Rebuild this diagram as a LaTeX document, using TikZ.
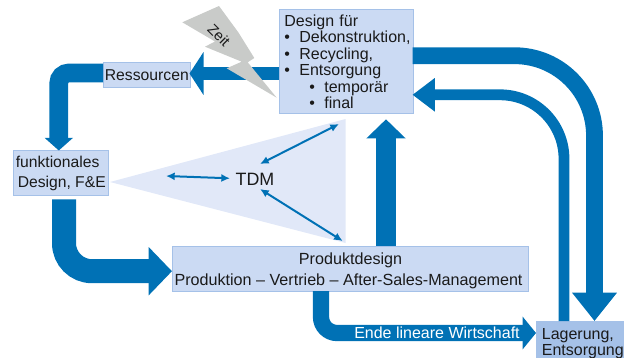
\documentclass[tikz,border=0pt]{standalone}
\usepackage{fontspec}
\setmainfont{Liberation Sans}
\usetikzlibrary{arrows.meta, positioning}
\definecolor{flowblue}{HTML}{0071B5}
\definecolor{boxfill}{HTML}{CBDAF3}
\definecolor{boxline}{HTML}{A5C1E8}
\definecolor{wedgefill}{HTML}{E1E8F8}
\definecolor{boltgray}{HTML}{C9CBC9}
\definecolor{textdark}{HTML}{1A1A1A}
\newcommand{\itembullet}{\makebox[11.25pt][l]{\textbullet}}

\begin{document}
\begin{tikzpicture}[
    x=0.75pt, y=-0.75pt,
    box_style/.style={draw=boxline, fill=boxfill, line width=0.8pt, inner sep=0pt, text=textdark, font=\fontsize{12}{12.4}\selectfont, anchor=north west},
    flow_style/.style={draw=flowblue, line cap=butt},
    link_style/.style={{Latex[length=6.5pt,width=6pt]}-{Latex[length=6.5pt,width=6pt]}, flowblue, line width=1.5pt},
]

    \useasboundingbox (0,0) rectangle (624,357);

    % Wedge
    \fill[wedgefill] (110,182) -- (345.5,119) -- (345.5,243) -- cycle;

    % Boxes
    \node[box_style, minimum width=100.5pt, minimum height=78pt, text width=92.5pt, inner xsep=4pt, align=left] (design_box) at (278.5,9.3) {%
        Design für\\
        \itembullet Dekonstruktion,\\
        \itembullet Recycling,\\
        \itembullet Entsorgung\\
        \hspace{18.75pt}\itembullet temporär\\
        \hspace{18.75pt}\itembullet final};
    \node[box_style, minimum width=64.9pt, minimum height=18.75pt, font=\fontsize{11.8}{13}\selectfont] (ressourcen_box) at (103,62) {Ressourcen};
    \node[box_style, minimum width=71.6pt, minimum height=33.75pt, align=left, font=\fontsize{11.75}{15}\selectfont] (funktional_box) at (12.5,150) {funktionales\\\hspace*{1.5pt}Design, F\&E};
    \node[box_style, minimum width=267pt, minimum height=34.1pt, inner ysep=2pt, align=center, font=\fontsize{12.1}{15.2}\selectfont] (produkt_box) at (172,245.5) {\rule{0pt}{12pt}Produktdesign\\Produktion – Vertrieb – After-Sales-Management\hspace*{3pt}};
    \node[box_style, fill=boxline, minimum width=80pt, minimum height=32.5pt, text width=72pt, inner xsep=3.75pt, inner ysep=0.4pt, align=left, font=\fontsize{12}{12}\selectfont] (lager_box) at (536,321) {Lagerung,\\Entsorgung};
    \node[text=textdark, font=\fontsize{13.4}{15}\selectfont] (tdm) at (255,179) {TDM};

    % Ends of the thick arrows
    \coordinate (ressourcen_in) at (278.5,73.5);
    \coordinate (ressourcen_tip) at (189.5,73.5);
    \coordinate (ressourcen_out) at (103,73);
    \coordinate (funktional_tip) at (58.8,150.5);
    \coordinate (funktional_out) at (64,199.3);
    \coordinate (produkt_tip) at (172,271.2);
    \coordinate (produkt_up) at (386,245.5);
    \coordinate (design_tip) at (386,119.3);
    \coordinate (design_out) at (412.5,55.7);
    \coordinate (lager_tip) at (594.5,321);
    \coordinate (lager_up) at (564,321);
    \coordinate (design_in) at (412.5,94.8);
    \coordinate (produkt_out) at (321,291);
    \coordinate (ende_tip) at (536,333);

    % Thick arrows
    \draw[flow_style, line width=10pt, -{Triangle[length=10.5pt,width=31.7pt]}] (ressourcen_in) -- (ressourcen_tip);
    \draw[flow_style, line width=14pt, rounded corners=7.5pt, -{Triangle[length=9.5pt,width=20.8pt]}] (ressourcen_out) -- (58.8,73) -- (funktional_tip);
    \draw[flow_style, line width=18pt, rounded corners=21pt, -{Triangle[length=17.5pt,width=35.25pt]}] (funktional_out) -- (64,271.2) -- (produkt_tip);
    \draw[flow_style, line width=14.5pt, -{Triangle[length=14.25pt,width=28.5pt]}] (produkt_up) -- (design_tip);
    \draw[flow_style, line width=12.6pt, rounded corners=60pt, -{Triangle[length=21.2pt,width=32.25pt]}] (design_out) -- (594.5,55.7) -- (lager_tip);
    \draw[flow_style, line width=8.1pt, rounded corners=48pt, -{Triangle[length=16.7pt,width=24pt]}] (lager_up) -- (564,94.8) -- (design_in);
    \draw[flow_style, line width=12.2pt, rounded corners=12pt, -{Triangle[length=10pt,width=24pt]}] (produkt_out) -- (321,333) -- (ende_tip);
    \node[text=white, font=\fontsize{12}{14}\selectfont, anchor=west, inner sep=0pt] (ende_label) at (354,333) {Ende lineare Wirtschaft};

    % Bolt
    \fill[boltgray] (182.3,22.3) -- (219,6) -- (238.3,32.3) -- (254.3,58) -- (247.7,62.3) -- (276.7,97.7) -- (226.7,68.3) -- (241.7,61.7) -- (205,46.7) -- (215,41.5) -- cycle;
    \node[rotate=-45, text=textdark, font=\fontsize{11}{13}\selectfont, inner sep=0pt] (zeit_label) at (219,35) {Zeit};

    % TDM links
    \coordinate (tdm_west) at (230,178.3);
    \coordinate (tdm_left) at (166,176);
    \coordinate (tdm_north) at (260,164);
    \coordinate (tdm_top) at (339,124);
    \coordinate (tdm_south) at (260,189);
    \coordinate (tdm_bottom) at (342.7,241);
    \draw[link_style] (tdm_west) -- (tdm_left);
    \draw[link_style] (tdm_north) -- (tdm_top);
    \draw[link_style] (tdm_south) -- (tdm_bottom);

\end{tikzpicture}
\end{document}
